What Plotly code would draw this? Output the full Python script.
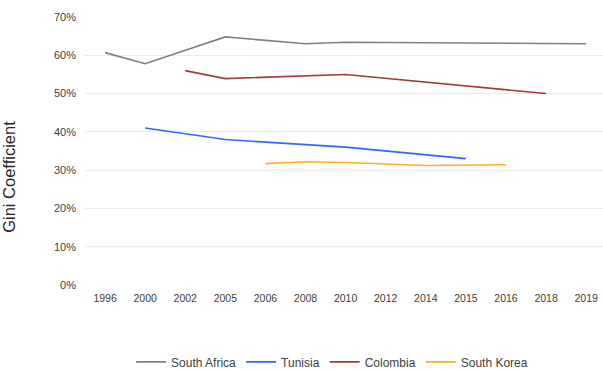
import plotly.graph_objects as go

years = ["1996", "2000", "2002", "2005", "2006", "2008", "2010", "2012", "2014", "2015", "2016", "2018", "2019"]

south_africa = [0.607, 0.578, None, 0.648, None, 0.630, 0.634, None, None, None, None, None, 0.630]
tunisia = [None, 0.410, None, 0.380, None, None, 0.360, None, None, 0.330, None, None, None]
colombia = [None, None, 0.560, 0.539, None, None, 0.550, None, None, None, None, 0.500, None]
south_korea = [None, None, None, None, 0.317, 0.322, 0.320, None, 0.312, None, 0.314, None, None]

series = [
    ("South Africa", south_africa, "#808080"),
    ("Tunisia", tunisia, "#3366FF"),
    ("Colombia", colombia, "#A33B37"),
    ("South Korea", south_korea, "#FFB11F"),
]

fig = go.Figure()
for name, vals, color in series:
    fig.add_trace(go.Scatter(
        x=years, y=vals, name=name, mode="lines", connectgaps=True,
        line=dict(color=color, width=1.6),
    ))

fig.update_layout(
    width=603, height=371,
    margin=dict(l=85, r=0, t=17, b=86, autoexpand=False),
    paper_bgcolor="white", plot_bgcolor="white",
    font=dict(family="Arial, Liberation Sans, sans-serif", size=10, color="#404040"),
    showlegend=True,
    legend=dict(orientation="h", x=0.477, xanchor="center", y=-0.287, yanchor="middle",
                font=dict(size=12, color="#404040"), itemwidth=30, tracegroupgap=0),
    xaxis=dict(type="category", categoryorder="array", categoryarray=years,
               range=[-0.5, 12.42], showgrid=False, zeroline=False, showline=False,
               ticks="", tickfont=dict(size=10.5, color="#404040"), ticklabelstandoff=5),
    yaxis=dict(range=[0, 0.7], dtick=0.1, tickformat=".0%", showgrid=True,
               gridcolor="#EBEBEB", gridwidth=1, zeroline=False, showline=False,
               ticks="", tickfont=dict(size=11, color="#404040"), ticklabelstandoff=8),
    annotations=[dict(text="Gini Coefficient", textangle=-90, xref="paper", yref="paper",
                      x=-0.147, y=0.403, xanchor="center", yanchor="middle", showarrow=False,
                      font=dict(size=16.5, color="#262626"))],
)

fig.write_html("out.html")
